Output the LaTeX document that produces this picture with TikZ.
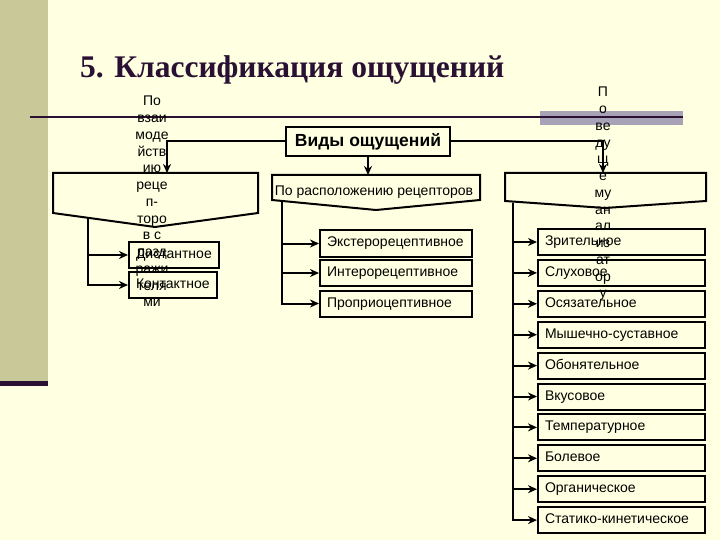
\documentclass[tikz,border=0pt]{standalone}
\usepackage{fontspec}
\setmainfont{Liberation Sans}
\newfontfamily\titlefont{Liberation Serif}
\usetikzlibrary{arrows.meta}
\definecolor{cream}{RGB}{255,255,225}
\definecolor{olivestrip}{RGB}{200,200,152}
\definecolor{darkpurple}{RGB}{42,16,50}
\definecolor{bargray}{RGB}{168,162,182}
\begin{document}
\begin{tikzpicture}[x=1pt,y=-1pt,
  conn/.style={line width=2pt,black},
  arr/.style={conn,-{Stealth[length=9pt,width=8pt]}},
  box/.style={draw,line width=2pt,anchor=west,minimum height=26pt,inner xsep=7pt,inner ysep=0pt,
    text height=10pt,text depth=3pt,align=left,font=\fontsize{14}{16}\selectfont},
  sig/.style={draw,line width=2pt,line join=miter},
  vtext/.style={align=center,inner sep=0pt,anchor=north,font=\fontsize{14}{16.75}\selectfont}
]
% background
\fill[cream] (0,0) rectangle (720,540);
\useasboundingbox (0,0) rectangle (720,540);
\fill[olivestrip] (0,0) rectangle (48,381);
\fill[darkpurple] (0,381) rectangle (48,386);
\fill[bargray] (540,111.5) rectangle (683,125);
\draw[line width=2pt,darkpurple] (30,117.5) -- (683,117.5);

% title
\node[anchor=base west,inner sep=0pt,text=darkpurple,font=\titlefont\bfseries\fontsize{31.5}{36}\selectfont] (title) at (80,78) {5. Классификация ощущений};

% top box
\node[draw,line width=2pt,minimum width=164pt,minimum height=29pt,inner sep=0pt,font=\bfseries\fontsize{17.5}{20}\selectfont] (vid) at (368,141.5) {Виды ощущений};

% signal shapes
\draw[sig] (53,173) -- (258,173) -- (258,213) -- (155,227) -- (53,213) -- cycle;
\draw[sig] (272,175) -- (480,175) -- (480,200) -- (376,210) -- (272,200) -- cycle;
\draw[sig] (505,173) -- (706,173) -- (706,201) -- (605,208) -- (505,201) -- cycle;

\coordinate (Ltop) at (167,173);
\coordinate (Rtop) at (603,173);
\coordinate (Mtop) at (368,175);
\coordinate (Lb) at (88,218.5);
\coordinate (Mb) at (282,201.5);
\coordinate (Rb) at (513,203);

\node[inner sep=0pt,font=\fontsize{14}{16}\selectfont] (mid) at (374,192) {По расположению рецепторов};

\draw[arr] (vid.west) -| (Ltop);
\draw[arr] (vid.east) -| (Rtop);
\draw[arr] (vid.south) -- (Mtop);

% left branch
\node[box,text width=76pt] (dist) at (128,255) {\mbox{Дистантное}};
\node[box,text width=74pt] (kont) at (128,285) {\mbox{Контактное}};
\draw[arr] (Lb) |- (dist.west);
\draw[arr] (Lb) |- (kont.west);

% middle branch
\node[box,text width=138pt] (ext) at (319,243.5) {\mbox{Экстерорецептивное}};
\node[box,text width=138pt] (int) at (319,273) {\mbox{Интерорецептивное}};
\node[box,text width=138pt] (prop) at (319,303.5) {\mbox{Проприоцептивное}};
\draw[arr] (Mb) |- (ext.west);
\draw[arr] (Mb) |- (int.west);
\draw[arr] (Mb) |- (prop.west);

% right branch
\foreach \t [count=\i] in {Зрительное,Слуховое,Осязательное,Мышечно-суставное,Обонятельное,Вкусовое,Температурное,Болевое,Органическое,Статико-кинетическое}{
  \node[box,text width=153pt] (r\i) at (537,{242+(\i-1)*30.9}) {\mbox{\t}};
  \draw[arr] (Rb) |- (r\i.west);
}

% narrow wrapped labels
\node[vtext] (ltext) at (152,96) {По\\взаи\\моде\\йств\\ию\\реце\\п-\\торо\\в с\\разд\\ражи\\теля\\ми};
\node[vtext] (rtext) at (603,87) {П\\о\\ве\\ду\\щ\\е\\му\\ан\\ал\\из\\ат\\ор\\у};
\end{tikzpicture}
\end{document}
